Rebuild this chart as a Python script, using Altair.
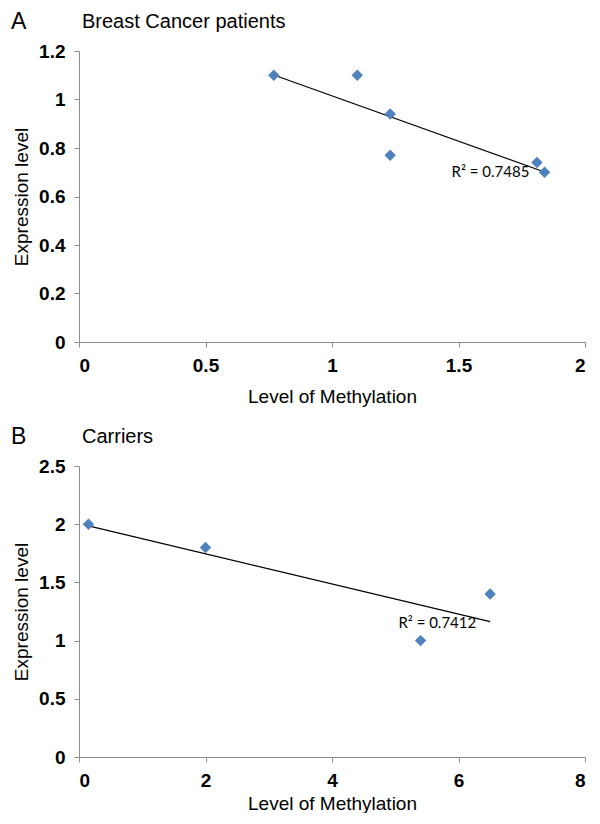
import altair as alt
import pandas as pd

# ---- data ----
a_methylation = [0.77, 1.10, 1.23, 1.23, 1.81, 1.84]
a_expression = [1.10, 1.10, 0.94, 0.77, 0.74, 0.70]
b_methylation = [0.15, 2.0, 5.4, 6.5]
b_expression = [2.0, 1.8, 1.0, 1.4]

a_xticks = [0, 0.5, 1, 1.5, 2]
a_yticks = [0, 0.2, 0.4, 0.6, 0.8, 1, 1.2]
b_xticks = [0, 2, 4, 6, 8]
b_yticks = [0, 0.5, 1, 1.5, 2, 2.5]

a_r2 = "R² = 0.7485"
b_r2 = "R² = 0.7412"

W, H = 506, 291
BLUE = "#4F81BD"
AX = "#8C8C8C"


def panel(xs, ys, xticks, yticks, letter, title, r2, r2x, r2y, xtitle_pad):
    df = pd.DataFrame({"x": xs, "y": ys})
    xdom = [xticks[0], xticks[-1]]
    ydom = [yticks[0], yticks[-1]]
    xenc = alt.X("x:Q", scale=alt.Scale(domain=xdom, nice=False, zero=False),
                 axis=alt.Axis(values=xticks, format="~g", title="Level of Methylation",
                               titlePadding=xtitle_pad))
    yenc = alt.Y("y:Q", scale=alt.Scale(domain=ydom, nice=False, zero=False),
                 axis=alt.Axis(values=yticks, format="~g", title="Expression level"))
    base = alt.Chart(df)
    pts = base.mark_point(shape="diamond", filled=True, size=130, color=BLUE, opacity=1).encode(x=xenc, y=yenc)
    line = base.transform_regression("x", "y").mark_line(color="black", strokeWidth=1.2).encode(
        x=alt.X("x:Q"), y=alt.Y("y:Q"))
    lab = alt.Chart(pd.DataFrame({"t": [r2]})).mark_text(
        align="right", baseline="middle", font="Lato", fontSize=15, color="black"
    ).encode(x=alt.datum(r2x), y=alt.datum(r2y), text="t:N")
    let = alt.Chart(pd.DataFrame({"t": [letter]})).mark_text(
        align="left", baseline="middle", font="Liberation Sans", fontSize=23, color="black"
    ).encode(x=alt.value(-68), y=alt.value(-29), text="t:N")
    tit = alt.Chart(pd.DataFrame({"t": [title]})).mark_text(
        align="left", baseline="middle", font="Liberation Sans", fontSize=20, color="black"
    ).encode(x=alt.value(3), y=alt.value(-29), text="t:N")
    return alt.layer(line, pts, lab, let, tit).properties(width=W, height=H)


chart_a = panel(a_methylation, a_expression, a_xticks, a_yticks, "A", "Breast Cancer patients",
                a_r2, 1.78, 0.70, 12)
chart_b = panel(b_methylation, b_expression, b_xticks, b_yticks, "B", "Carriers",
                b_r2, 6.28, 1.15, 4)

chart = alt.vconcat(chart_a, chart_b, spacing=20).properties(
    padding={"left": 3, "top": 3, "right": 0, "bottom": 0}
).configure_view(
    stroke=None
).configure_axis(
    grid=False,
    domainColor=AX,
    tickColor=AX,
    tickSize=5,
    labelFont="Liberation Sans",
    labelFontWeight="bold",
    labelFontSize=19,
    labelColor="black",
    labelPadding=9,
    titleFont="Liberation Sans",
    titleFontWeight="normal",
    titleFontSize=19,
    titleColor="black",
).configure_axisY(titlePadding=7, labelPadding=9)

chart.save("out.html", embed_options={"renderer": "svg", "actions": False})
